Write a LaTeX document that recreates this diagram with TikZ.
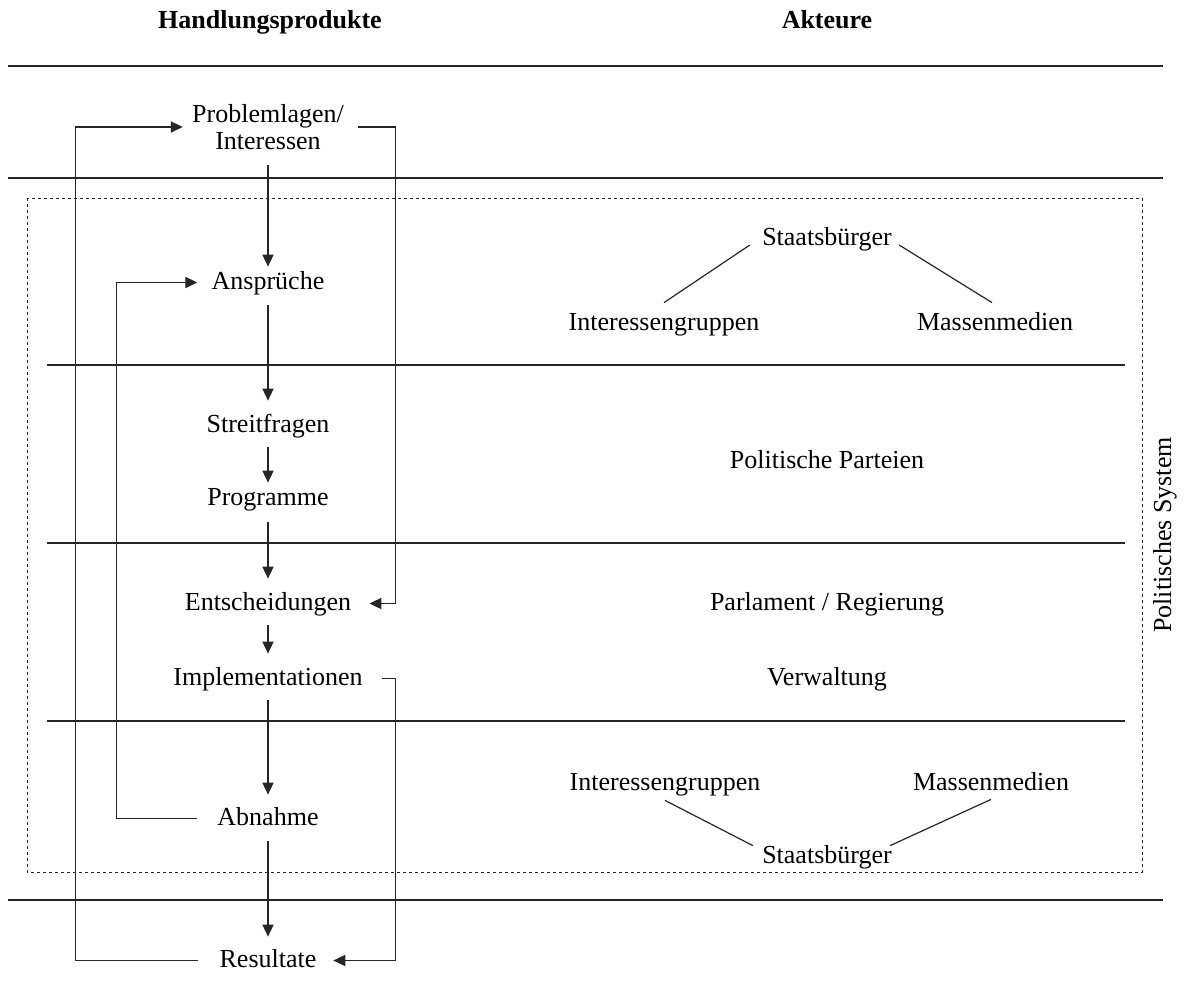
\documentclass[tikz,border=0pt]{standalone}
\usepackage{fontspec}
\setmainfont{Liberation Serif}
\usetikzlibrary{arrows.meta}
\begin{document}
\begin{tikzpicture}[x=0.5pt,y=-0.5pt,
  every node/.style={inner sep=0pt, font=\fontsize{13}{13.7}\selectfont},
  lbl/.style={text height=9.5pt, text depth=3pt, anchor=base},
  ln/.style={line width=0.6pt, draw=black!85},
  arr/.style={ln, -{Triangle[length=6pt,width=5.6pt]}},
  dotbox/.style={line width=0.5pt, draw=black!85, dash pattern=on 1.5pt off 1.5pt},
  hdr/.style={anchor=base, font=\fontsize{13}{13.7}\selectfont\bfseries}
]
\useasboundingbox (0,0) rectangle (1184,1001);

% headers
\node[hdr] (h1) at (270,28) {Handlungsprodukte};
\node[hdr] (h2) at (827,28) {Akteure};

% horizontal rules
\coordinate (r1a) at (8,66);   \coordinate (r1b) at (1163,66);
\coordinate (r2a) at (8,178);  \coordinate (r2b) at (1163,178);
\coordinate (r3a) at (8,900);  \coordinate (r3b) at (1163,900);
\draw[ln] (r1a) -- (r1b);
\draw[ln] (r2a) -- (r2b);
\draw[ln] (r3a) -- (r3b);

% political system box
\draw[dotbox] (27,198) rectangle (1142,872);
\coordinate (s1a) at (47,365); \coordinate (s1b) at (1125,365);
\coordinate (s2a) at (47,543); \coordinate (s2b) at (1125,543);
\coordinate (s3a) at (47,721); \coordinate (s3b) at (1125,721);
\draw[ln] (s1a) -- (s1b);
\draw[ln] (s2a) -- (s2b);
\draw[ln] (s3a) -- (s3b);
\node[rotate=90] (ps) at (1165,535) {Politisches System};

% products column
\node[align=center] (prob) at (268,127) {Problemlagen/\\Interessen};
\node[lbl] (ansp) at (268,289) {Ansprüche};
\node[lbl] (streit) at (268,432) {Streitfragen};
\node[lbl] (prog) at (268,505) {Programme};
\node[lbl] (ent) at (268,610) {Entscheidungen};
\node[lbl] (impl) at (268,685) {Implementationen};
\node[lbl] (abn) at (268,825) {Abnahme};
\node[lbl] (res) at (268,967) {Resultate};

% vertical arrows
\draw[arr, shorten <=7.5pt, shorten >=1.5pt] (prob.south) -- (ansp.north);
\draw[arr, shorten <=5pt, shorten >=6pt] (ansp.south) -- (streit.north);
\draw[arr, shorten <=4.5pt, shorten >=1.5pt] (streit.south) -- (prog.north);
\draw[arr, shorten <=5.5pt, shorten >=6pt] (prog.south) -- (ent.north);
\draw[arr, shorten <=4.5pt, shorten >=6pt] (ent.south) -- (impl.north);
\draw[arr, shorten <=4.5pt, shorten >=5.5pt] (impl.south) -- (abn.north);
\draw[arr, shorten <=5pt, shorten >=5.5pt] (abn.south) -- (res.north);

% feedback loops
\draw[arr, shorten <=10.8pt, shorten >=4.5pt] (res.west) -| (75.5,127) -- (prob.west);
\draw[arr, shorten <=7pt, shorten >=9pt] (prob.east) -| (395.5,603.5) -- (ent.east);
\draw[arr, shorten <=9.5pt, shorten >=8.3pt] (impl.east) -| (395.5,960.5) -- (res.east);
\draw[arr, shorten <=10pt, shorten >=7pt] (abn.west) -| (116.5,282.5) -- (ansp.west);

% actors
\node[lbl] (sb1) at (827,245) {Staatsbürger};
\node[lbl] (ig1) at (664,330) {Interessengruppen};
\node[lbl] (mm1) at (995,330) {Massenmedien};
\node[lbl] (pp) at (827,468) {Politische Parteien};
\node[lbl] (pr) at (827,610) {Parlament / Regierung};
\node[lbl] (vw) at (827,685) {Verwaltung};
\node[lbl] (ig2) at (665,790) {Interessengruppen};
\node[lbl] (mm2) at (991,790) {Massenmedien};
\node[lbl] (sb2) at (827,863) {Staatsbürger};

\draw[ln] ([yshift=4pt]ig1.north) -- ([xshift=-6pt]sb1.base west);
\draw[ln] ([xshift=3.5pt]sb1.base east) -- ([xshift=-1.5pt,yshift=4pt]mm1.north);
\draw[ln] ([yshift=-2pt]ig2.south) -- ([xshift=-4.5pt,yshift=-1pt]sb2.north west);
\draw[ln] ([yshift=-1.5pt]mm2.south) -- ([xshift=-1pt,yshift=-1pt]sb2.north east);
\end{tikzpicture}
\end{document}
